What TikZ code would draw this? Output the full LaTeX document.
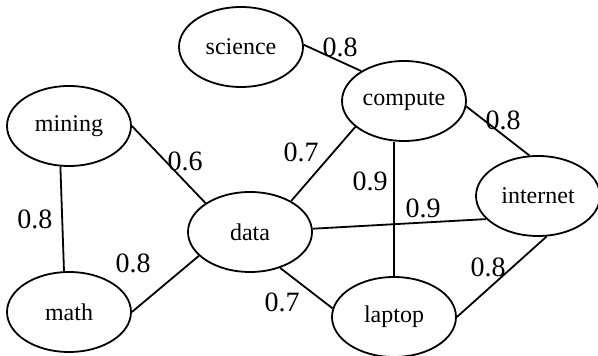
\documentclass[tikz,border=0pt]{standalone}
\usepackage{fontspec}
\setmainfont{Liberation Serif}
\usetikzlibrary{shapes.geometric}

\tikzset{
	term/.style = {ellipse, draw, inner sep = 0pt, minimum width = 62pt, minimum height = 40pt, font = \fontsize{12}{14}\selectfont},
	weight/.style = {inner sep = 0pt, font = \fontsize{14}{16}\selectfont}
}

\begin{document}
\begin{tikzpicture}[x = 0.5pt, y = -0.5pt, line width = 0.9pt]
	\useasboundingbox (0,0) rectangle (598,356);

	\node [term] (science) at (241,47) {science};
	\node [term] (compute) at (404,101) {compute};
	\node [term] (mining) at (69,126) {mining};
	\node [term] (data) at (250,232) {data};
	\node [term] (internet) at (538,196) {internet};
	\node [term] (math) at (69,312) {math};
	\node [term] (laptop) at (394,317) {laptop};

	\draw (science.2) -- (compute.145);
	\draw (compute.-5) -- (internet.102);
	\draw (data.37) -- (compute.-152);
	\draw (laptop.north) -- (laptop.north |- compute.south);
	\draw (data.3) -- (internet.-156);
	\draw (internet.-78) -- (laptop.east);
	\draw (data.-50) -- (laptop.172);
	\draw (mining.east) -- (data.147);
	\draw (mining.-102) -- (math.97);
	\draw (math.east) -- (data.-155);

	\node [weight] (w1) at (340,47) {0.8};
	\node [weight] (w2) at (503,120) {0.8};
	\node [weight] (w3) at (301,152) {0.7};
	\node [weight] (w4) at (370,181) {0.9};
	\node [weight] (w5) at (423,208) {0.9};
	\node [weight] (w6) at (488,267) {0.8};
	\node [weight] (w7) at (282,302) {0.7};
	\node [weight] (w8) at (185,161) {0.6};
	\node [weight] (w9) at (35,219) {0.8};
	\node [weight] (w10) at (133,263) {0.8};
\end{tikzpicture}
\end{document}
